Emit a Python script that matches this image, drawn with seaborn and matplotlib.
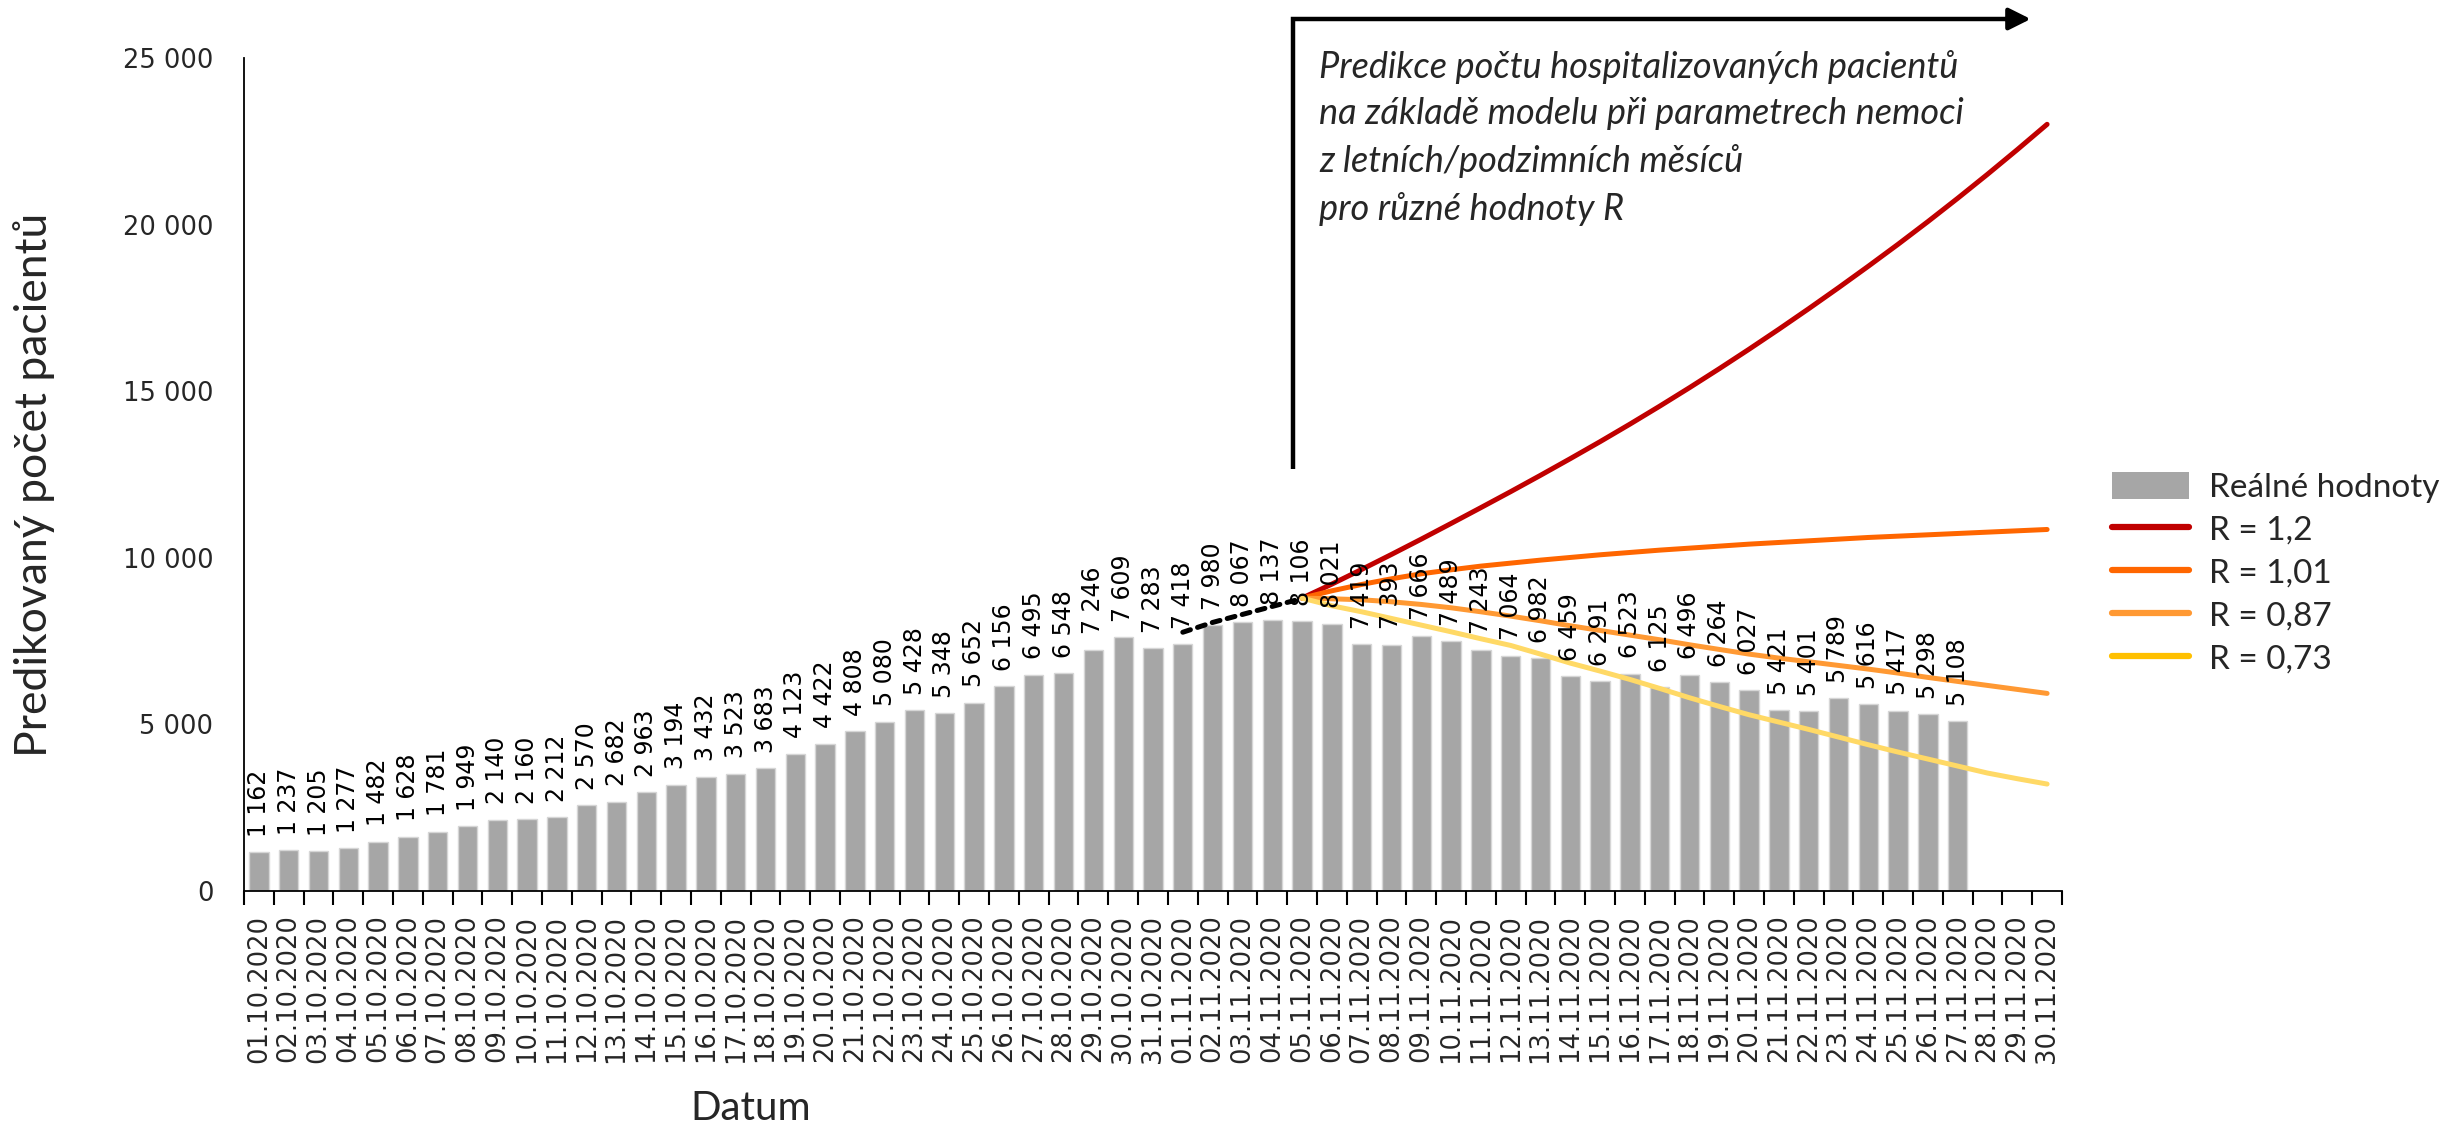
import numpy as np
import pandas as pd
import matplotlib
matplotlib.use("Agg")
import matplotlib.pyplot as plt
import seaborn as sns
from matplotlib.lines import Line2D
from matplotlib.patches import Patch
from matplotlib import font_manager as fm

# ---------------- data ----------------
dates = [f"{d:02d}.10.2020" for d in range(1, 32)] + [f"{d:02d}.11.2020" for d in range(1, 31)]

real_values = [1162, 1237, 1205, 1277, 1482, 1628, 1781, 1949, 2140, 2160,
               2212, 2570, 2682, 2963, 3194, 3432, 3523, 3683, 4123, 4422,
               4808, 5080, 5428, 5348, 5652, 6156, 6495, 6548, 7246, 7609,
               7283, 7418, 7980, 8067, 8137, 8106, 8021, 7419, 7393, 7666,
               7489, 7243, 7064, 6982, 6459, 6291, 6523, 6125, 6496, 6264,
               6027, 5421, 5401, 5789, 5616, 5417, 5298, 5108]

fit_dates = dates[31:36]          # 01.11 - 05.11
fit_values = [7766, 8060, 8300, 8540, 8780]

pred_dates = dates[35:]           # 05.11 - 30.11
r_120 = [8790, 9210, 9650, 10100, 10560, 11030, 11505, 11985, 12475, 12975,
         13485, 14010, 14550, 15105, 15675, 16260, 16860, 17475, 18105, 18750,
         19410, 20090, 20790, 21510, 22250, 23010]
r_101 = [8790, 9010, 9200, 9370, 9520, 9640, 9750, 9840, 9930, 10010,
         10090, 10160, 10230, 10290, 10350, 10410, 10460, 10510, 10560, 10610,
         10650, 10690, 10730, 10770, 10810, 10850]
r_087 = [8790, 8770, 8740, 8680, 8600, 8500, 8380, 8250, 8110, 7960,
         7820, 7680, 7540, 7390, 7250, 7110, 6990, 6880, 6770, 6660,
         6540, 6410, 6290, 6170, 6050, 5930]
r_073 = [8790, 8560, 8380, 8180, 7980, 7780, 7570, 7370, 7110, 6840,
         6600, 6350, 6080, 5800, 5540, 5290, 5070, 4850, 4620, 4390,
         4170, 3960, 3750, 3540, 3370, 3210]

series_labels = ["R = 1,2", "R = 1,01", "R = 0,87", "R = 0,73"]
series_values = [r_120, r_101, r_087, r_073]
line_colors = ["#C00000", "#FF6600", "#FF9933", "#FFD966"]
legend_colors = ["#C00000", "#FF6600", "#FF9933", "#FFC000"]
bar_label_name = "Reálné hodnoty"
yticks = [0, 5000, 10000, 15000, 20000, 25000]

# ---------------- style ----------------
sns.set_theme(style="white")
avail = {f.name for f in fm.fontManager.ttflist}
cal = "Lato" if "Lato" in avail else "DejaVu Sans"
plt.rcParams["font.family"] = ["DejaVu Sans"]

W, H = 2453, 1125
fig = plt.figure(figsize=(W / 100, H / 100), dpi=100)
ax = fig.add_axes([244 / W, 1 - 891 / H, (2062 - 244) / W, (891 - 58) / H])

pos = {d: i for i, d in enumerate(dates)}

df_real = pd.DataFrame({"Datum": dates[:len(real_values)], "Hodnota": real_values})
sns.barplot(data=df_real, x="Datum", y="Hodnota", order=dates, color="#A6A6A6",
            saturation=1, width=0.65, edgecolor="#D6D6D6", linewidth=1, ax=ax)

fmt = lambda v: f"{v:,.0f}".replace(",", " ")
for cont in ax.containers:
    ax.bar_label(cont, fmt=fmt, rotation=90, padding=11, fontsize=17,
                 color="black")

# dashed fit line
df_fit = pd.DataFrame({"x": [pos[d] for d in fit_dates], "y": fit_values})
sns.lineplot(data=df_fit, x="x", y="y", color="black", lw=3.6, ax=ax,
             linestyle=(0, (1.6, 1.5)), dash_capstyle="round")

# prediction lines
for lab, vals, col in zip(series_labels, series_values, line_colors):
    dfp = pd.DataFrame({"x": [pos[d] for d in pred_dates], "y": vals})
    sns.lineplot(data=dfp, x="x", y="y", color=col, lw=3.6, ax=ax,
                 solid_capstyle="round")

# axes formatting
ax.set_xlim(-0.5, len(dates) - 0.5)
ax.set_ylim(0, 25000)
ax.set_yticks(yticks)
ax.set_yticklabels([fmt(v) for v in yticks], fontsize=18.5)
ax.set_xticks(range(len(dates)))
ax.set_xticklabels(dates, rotation=90, fontsize=18.5)
ax.set_xticks(np.arange(-0.5, len(dates), 1.0), minor=True)
ax.tick_params(axis="x", which="major", length=0, pad=17)
ax.tick_params(axis="x", which="minor", length=10, width=1.5, color="black",
               direction="out", bottom=True)
ax.tick_params(axis="y", length=0, pad=22)
for s in ["top", "right"]:
    ax.spines[s].set_visible(False)
for s in ["left", "bottom"]:
    ax.spines[s].set_color("black")
    ax.spines[s].set_linewidth(1.3)
ax.set_xlabel("")
ax.set_ylabel("")
ax.grid(False)

fig.text(751 / W, 1 - 1109 / H, "Datum", family=cal, fontsize=29,
         ha="center", va="center")
fig.text(34 / W, 1 - 485 / H, "Predikovaný počet pacientů", family=cal,
         fontsize=32, rotation=90, ha="center", va="center")

# arrow bracket
trans = ax.get_xaxis_transform()
ax.plot([34.7, 34.7, 58.9], [0.5066, 1.0468, 1.0468], color="black", lw=3.2,
        transform=trans, clip_on=False, solid_capstyle="butt",
        solid_joinstyle="miter")
ax.annotate("", xy=(59.45, 1.0468), xytext=(58.6, 1.0468),
            xycoords=trans, textcoords=trans,
            arrowprops=dict(arrowstyle="-|>,head_length=1.1,head_width=0.55",
                            color="black", lw=3.2, shrinkA=0, shrinkB=0))

fig.text(1319 / W, 1 - 50 / H,
         "Predikce počtu hospitalizovaných pacientů\n"
         "na základě modelu při parametrech nemoci\n"
         "z letních/podzimních měsíců\n"
         "pro různé hodnoty R",
         family=cal, style="italic", fontsize=26, ha="left", va="top",
         linespacing=1.5)

# legend
handles = [Patch(facecolor="#A6A6A6", edgecolor="none")]
handles += [Line2D([0], [0], color=c, lw=4.5) for c in legend_colors]
labels = [bar_label_name] + series_labels
fig.legend(handles, labels, loc="upper left",
           bbox_to_anchor=(2112 / W, 1 - 472 / H), frameon=False,
           prop={"family": cal, "size": 24}, handlelength=2.3,
           handleheight=0.85, handletextpad=0.6, labelspacing=0.36,
           borderpad=0, borderaxespad=0)

fig.savefig("out.png", dpi=100)
